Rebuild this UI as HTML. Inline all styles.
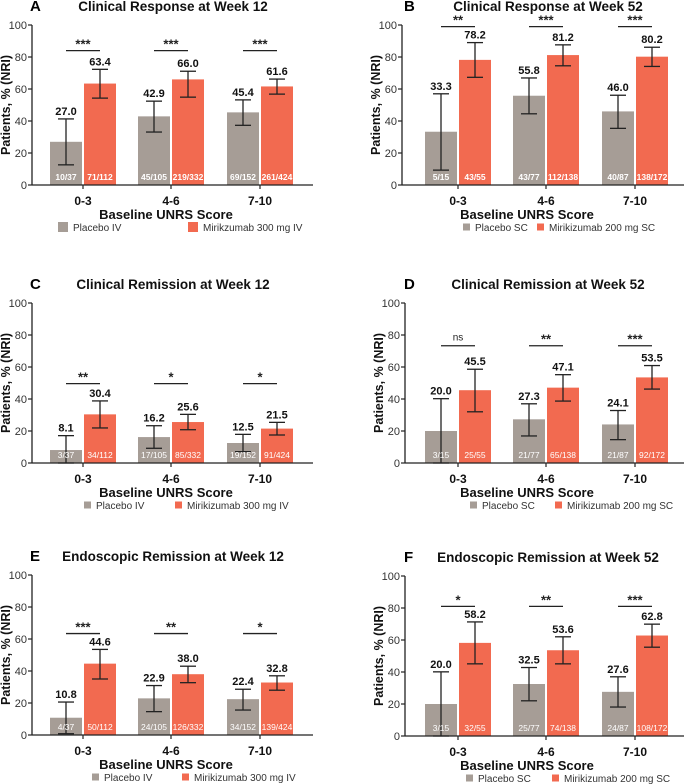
<!DOCTYPE html>
<html><head><meta charset="utf-8"><style>
body{margin:0;background:#fff;width:685px;height:784px;overflow:hidden}
svg{display:block;font-family:"Liberation Sans",Arial,sans-serif}
</style></head><body>
<svg id="chart" width="685" height="784"></svg>
<script>
const categories=["0-3","4-6","7-10"];
const titles=["Clinical Response at Week 12","Clinical Response at Week 52","Clinical Remission at Week 12","Clinical Remission at Week 52","Endoscopic Remission at Week 12","Endoscopic Remission at Week 52"];
const letters=["A","B","C","D","E","F"];
const legendPlacebo=["Placebo IV","Placebo SC","Placebo IV","Placebo SC","Placebo IV","Placebo SC"];
const legendMiri=["Mirikzumab 300 mg IV","Mirikizumab 200 mg SC","Mirikizumab 300 mg IV","Mirikizumab 200 mg SC","Mirikizumab 300 mg IV","Mirikizumab 200 mg SC"];
const placeboVals=[[27.0,42.9,45.4],[33.3,55.8,46.0],[8.1,16.2,12.5],[20.0,27.3,24.1],[10.8,22.9,22.4],[20.0,32.5,27.6]];
const miriVals=[[63.4,66.0,61.6],[78.2,81.2,80.2],[30.4,25.6,21.5],[45.5,47.1,53.5],[44.6,38.0,32.8],[58.2,53.6,62.8]];
const placeboHi=[[41.3,52.4,53.2],[57,66.9,56.1],[17.1,23.3,17.9],[40.2,37,32.8],[20.6,30.9,28.6],[40.1,42.8,37]];
const placeboLo=[[12.6,33.1,37.3],[9.3,44.5,35.4],[0,9.2,7.1],[0,16.9,14.6],[0.8,14.6,15.6],[0,22,18.1]];
const miriHi=[[72.3,71.1,66.2],[89,87.6,86.1],[38.8,30.4,25.4],[58.6,55.2,60.9],[53.5,43,37],[71.3,62,69.9]];
const miriLo=[[54.3,54.9,56.8],[67.3,74.5,74.1],[21.9,20.8,17.5],[32,38.7,46.2],[35,32.7,28],[45.1,45.1,55.5]];
const placeboN=[["10/37","45/105","69/152"],["5/15","43/77","40/87"],["3/37","17/105","19/152"],["3/15","21/77","21/87"],["4/37","24/105","34/152"],["3/15","25/77","24/87"]];
const miriN=[["71/112","219/332","261/424"],["43/55","112/138","138/172"],["34/112","85/332","91/424"],["25/55","65/138","92/172"],["50/112","126/332","139/424"],["32/55","74/138","108/172"]];
const sigText=[["***","***","***"],["**","***","***"],["**","*","*"],["ns","**","***"],["***","**","*"],["*","**","***"]];
const sigLevel=[[84,84,84],[99,99,99],[49.6,49.6,49.6],[73.3,73.3,73.3],[63.4,63.4,63.4],[81,81,81]];
const yTicks=[0,20,40,60,80,100];

const NS="http://www.w3.org/2000/svg";
const svg=document.getElementById('chart');
function mk(tag,attrs,parent,text){const e=document.createElementNS(NS,tag);for(const k in attrs)e.setAttribute(k,attrs[k]);if(text!==undefined)e.textContent=text;(parent||svg).appendChild(e);return e;}
const layout=[{x0:32,y100:25},{x0:402,y100:25},{x0:32,y100:303},{x0:405,y100:303},{x0:32,y100:575},{x0:405,y100:576}];
const centersL=[83,171,260];
const GREY="#a69d96",RED="#f26a50";
for(let p=0;p<6;p++){
  const L=layout[p];const right=p%2===1;
  const g=mk('g',{});
  
  
  const y0=L.y100+160;
  const ys=v=>y0-v*1.6;
  const cx=i=>centersL[i]+(right?375:0);
  const xEnd=right?684:313;
  const tc=right?548:173;
  const lt=mk('text',{x:right?404:30,y:L.y100-14,'font-size':15,'font-weight':'bold',fill:'#000'},g,letters[p]);
  
  const tt=mk('text',{x:tc,y:L.y100-14,'font-size':13.5,'font-weight':'bold','text-anchor':'middle',fill:'#111'},g,titles[p]);
  
  const ya=mk('line',{x1:L.x0,y1:L.y100,x2:L.x0,y2:y0,stroke:'#222','stroke-width':1.3},g);
  
  yTicks.forEach(t=>{
    mk('line',{x1:L.x0-4,x2:L.x0,y1:ys(t),y2:ys(t),stroke:'#222','stroke-width':1.2},g);
    const tl=mk('text',{x:L.x0-5,y:ys(t)+4,'font-size':11,'text-anchor':'end',fill:'#333'},g,String(t));
    
  });
  const yt=mk('text',{x:0,y:0,'font-size':12.5,'font-weight':'bold','text-anchor':'middle',transform:`translate(${L.x0-22},${L.y100+80}) rotate(-90)`,fill:'#111'},g,'Patients, % (NRI)');
  
  for(let i=0;i<3;i++){
    const c=cx(i);
    const pairs=[[placeboVals,placeboHi,placeboLo,placeboN,GREY,c-33,'placebo'],[miriVals,miriHi,miriLo,miriN,RED,c+1,'mirikizumab']];
    pairs.forEach(([vals,hi,lo,nn,col,x,nm])=>{
      const v=vals[p][i];
      const b=mk('rect',{x:x,y:ys(v),width:32,height:v*1.6,fill:col},g);
      
      
      const ex=x+16;
      mk('line',{x1:ex,x2:ex,y1:ys(hi[p][i]),y2:ys(lo[p][i]),stroke:'#222','stroke-width':1.3},g);
      mk('line',{x1:ex-8,x2:ex+8,y1:ys(hi[p][i]),y2:ys(hi[p][i]),stroke:'#222','stroke-width':1.3},g);
      mk('line',{x1:ex-8,x2:ex+8,y1:ys(lo[p][i]),y2:ys(lo[p][i]),stroke:'#222','stroke-width':1.3},g);
      const vl=mk('text',{x:ex,y:ys(hi[p][i])-4,'font-size':11,'font-weight':'bold','text-anchor':'middle',fill:'#111'},g,v.toFixed(1));
      
      const nl=mk('text',{x:ex,y:y0-5,'font-size':8.5,'font-weight':p<2?'bold':'normal','text-anchor':'middle',fill:'#fff'},g,nn[p][i]);
      
    });
    const sy=ys(sigLevel[p][i]);
    const sl=mk('line',{x1:c-17,x2:c+17,y1:sy,y2:sy,stroke:'#222','stroke-width':1.3},g);
    
    const st=mk('text',{x:c,y:sy-(sigText[p][i]==='ns'?5:2),'font-size':sigText[p][i]==='ns'?10:13,'font-weight':sigText[p][i]==='ns'?'normal':'bold','text-anchor':'middle',fill:'#222'},g,sigText[p][i]);
    
    mk('line',{x1:c,x2:c,y1:y0,y2:y0+4,stroke:'#222','stroke-width':1.2},g);
    const xl=mk('text',{x:c,y:y0+20,'font-size':12,'font-weight':'bold','text-anchor':'middle',fill:'#111'},g,categories[i]);
    
  }
  const xa=mk('line',{x1:L.x0,y1:y0,x2:xEnd,y2:y0,stroke:'#222','stroke-width':1.3},g);
  
  const xt=mk('text',{x:right?527:166,y:y0+34,'font-size':13,'font-weight':'bold','text-anchor':'middle',fill:'#111'},g,'Baseline UNRS Score');
  
  const legX=[[58,188],[463,537],[84,175],[470,555],[92,182],[466,552]][p];
  const ly=y0+45;
  const sq=p===0?10:7;
  [[legX[0],GREY,legendPlacebo[p],'legend-placebo'],[legX[1],RED,legendMiri[p],'legend-mirikizumab']].forEach(([lx,col,txt,nm])=>{
    const le=mk('g',{},g);
    
    mk('rect',{x:lx,y:ly-sq/2-3,width:sq,height:sq,fill:col},le);
    mk('text',{x:lx+sq+5,y:ly+1,'font-size':10,fill:'#333'},le,txt);
  });
}
</script>
</body></html>
